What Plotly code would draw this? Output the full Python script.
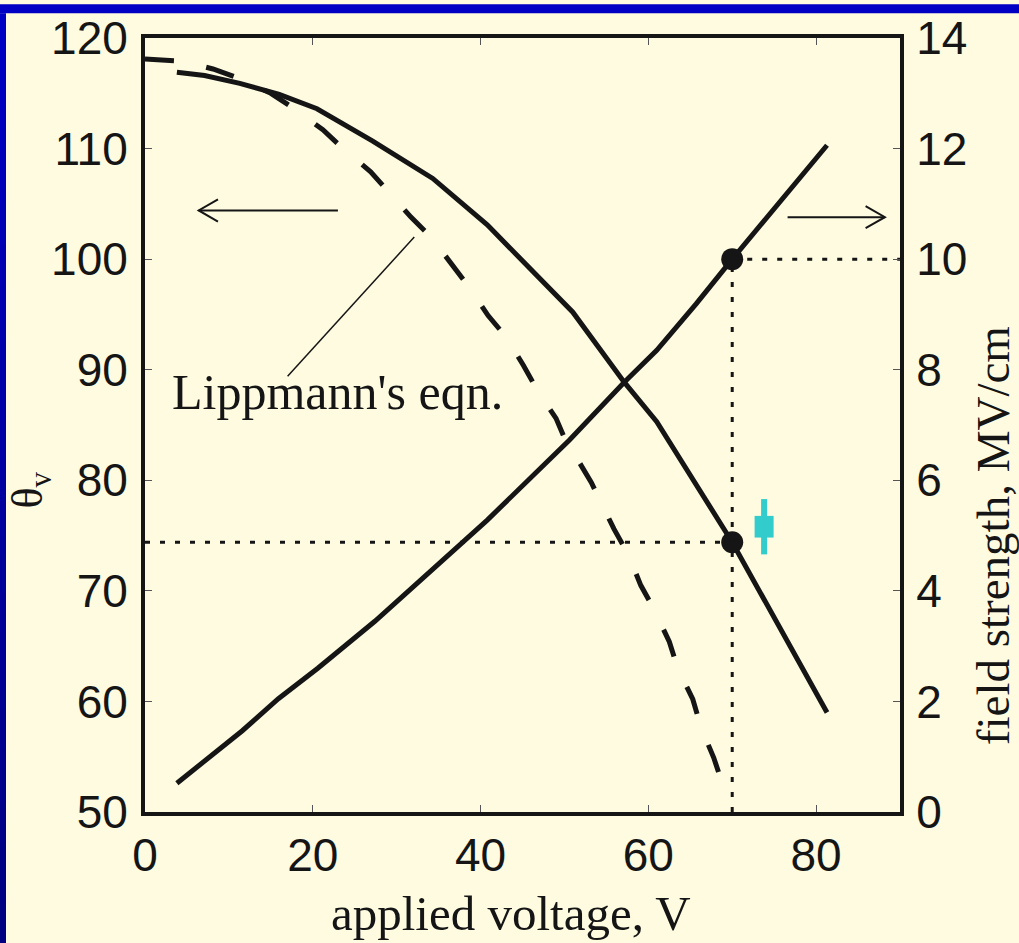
import plotly.graph_objects as go

# Contact angle vs applied voltage (left axis)
v_theta = [3.8, 7.1, 11.3, 16.0, 20.5, 27.1, 34.3, 40.8, 51.0, 57.1, 61.0, 70.0, 81.3]
theta = [116.9, 116.6, 115.9, 114.9, 113.6, 110.7, 107.3, 103.1, 95.2, 88.9, 85.3, 74.4, 59.0]

# Field strength vs applied voltage (right axis)
v_field = [3.8, 7.0, 11.6, 15.9, 20.6, 27.4, 34.2, 40.8, 50.6, 57.1, 61.0, 65.7, 70.0, 81.3]
field = [0.52, 0.90, 1.47, 2.05, 2.60, 3.45, 4.38, 5.28, 6.73, 7.77, 8.35, 9.19, 10.0, 12.06]

# Lippmann's equation prediction (left axis)
v_lipp = [0.0, 4.5, 8.1, 11.4, 15.0, 17.8, 21.2, 23.6, 26.9, 29.0, 31.7, 34.1, 36.5, 38.6,
          40.9, 43.0, 45.1, 46.8, 49.0, 49.9, 53.2, 54.1, 55.9, 57.6, 59.1, 60.7, 62.5,
          63.5, 65.3, 66.3, 67.8, 68.9]
theta_lipp = [118.1, 117.9, 117.2, 116.3, 115.0, 113.6, 111.7, 110.0, 107.9, 106.1, 103.8,
              102.0, 99.5, 97.5, 94.9, 93.0, 90.4, 88.1, 85.6, 84.0, 79.8, 78.4, 75.6, 73.3,
              70.5, 68.3, 65.4, 63.0, 60.2, 57.6, 54.9, 52.4]

# Operating point
v_op = 70.0
theta_op = 74.4
field_op = 10.0

# Measured angle with spread
v_meas = 73.8
theta_meas = 75.8
theta_meas_box = 0.98
theta_meas_range = 2.5

# Axis scales
x_range = [0, 90]
x_ticks = [0, 20, 40, 60, 80]
y_range = [50, 120]
y_ticks = [50, 60, 70, 80, 90, 100, 110, 120]
y2_range = [0, 14]
y2_ticks = [0, 2, 4, 6, 8, 10, 12, 14]

INK = "#151515"
BG = "#FEFBE1"
SANS = "Liberation Sans, Arial, sans-serif"
SERIF = "Liberation Serif, Times New Roman, serif"

fig = go.Figure()

fig.add_trace(go.Scatter(x=v_lipp, y=theta_lipp, mode="lines",
                         line=dict(color=INK, width=5, dash="29px,33px"),
                         showlegend=False))
fig.add_trace(go.Scatter(x=v_theta, y=theta, mode="lines",
                         line=dict(color=INK, width=5), showlegend=False))
fig.add_trace(go.Scatter(x=v_field, y=field, mode="lines", yaxis="y2",
                         line=dict(color=INK, width=5), showlegend=False))

# Dotted guides through the operating point
fig.add_trace(go.Scatter(x=[x_range[0], v_op], y=[theta_op, theta_op], mode="lines",
                         line=dict(color=INK, width=3, dash="5px,10px"), showlegend=False))
fig.add_trace(go.Scatter(x=[v_op, v_op], y=[y2_range[0], field_op], mode="lines", yaxis="y2",
                         line=dict(color=INK, width=3, dash="5px,10px"), showlegend=False))
fig.add_trace(go.Scatter(x=[v_op, x_range[1]], y=[field_op, field_op], mode="lines", yaxis="y2",
                         line=dict(color=INK, width=3, dash="5px,10px"), showlegend=False))

# Operating point markers
fig.add_trace(go.Scatter(x=[v_op], y=[theta_op], mode="markers",
                         marker=dict(color=INK, size=22), showlegend=False))
fig.add_trace(go.Scatter(x=[v_op], y=[field_op], mode="markers", yaxis="y2",
                         marker=dict(color=INK, size=22), showlegend=False))

# Measured point: whisker and box
CYAN = "#33CCCC"
fig.add_trace(go.Scatter(x=[v_meas], y=[theta_meas], mode="markers",
                         marker=dict(size=4, color=CYAN),
                         error_y=dict(type="data", array=[theta_meas_range], color=CYAN,
                                      thickness=6, width=0),
                         showlegend=False))
fig.add_trace(go.Scatter(x=[v_meas], y=[theta_meas], mode="markers",
                         marker=dict(size=4, color=CYAN),
                         error_y=dict(type="data", array=[theta_meas_box], color=CYAN,
                                      thickness=19, width=0),
                         showlegend=False))

# Direction arrows (open V heads) and leader line
left_arrow = dict(x0=23.0, x1=6.4, y=104.4)
right_arrow = dict(x0=76.6, x1=88.2, y=103.8)
head_dx, head_dy = 2.3, 1.0
shapes = []
for a in (left_arrow, right_arrow):
    sgn = 1 if a["x1"] < a["x0"] else -1
    shapes.append(dict(type="line", xref="x", yref="y", x0=a["x0"], x1=a["x1"],
                       y0=a["y"], y1=a["y"], line=dict(color=INK, width=2)))
    shapes.append(dict(type="path", xref="x", yref="y",
                       path=f"M {a['x1'] + sgn * head_dx},{a['y'] + head_dy} "
                            f"L {a['x1']},{a['y']} L {a['x1'] + sgn * head_dx},{a['y'] - head_dy}",
                       line=dict(color=INK, width=2)))
shapes.append(dict(type="line", xref="x", yref="y", x0=17.0, y0=89.4, x1=32.1, y1=102.0,
                   line=dict(color=INK, width=1.5)))

# Slide frame: blue bars along the top and left edge
W, H = 1019, 943
L, R, T, B = 145, 119, 32, 131
pw, ph = W - L - R, H - T - B
def px_x(p):
    return (p - L) / pw
def px_y(p):
    return 1 - (p - T) / ph
n_seg = 48
for i in range(n_seg):
    y0 = 7 + (H - 7) * i / n_seg
    y1 = 7 + (H - 7) * (i + 1) / n_seg + 3
    f = i / (n_seg - 1)
    b = int(0xC4 + (0x80 - 0xC4) * f)
    shapes.append(dict(type="rect", xref="paper", yref="paper", layer="above",
                       x0=px_x(-2), x1=px_x(6), y0=px_y(y0), y1=px_y(y1),
                       fillcolor=f"rgb(0,0,{b})", line=dict(width=0)))
shapes.append(dict(type="rect", xref="paper", yref="paper", layer="above",
                   x0=px_x(-2), x1=px_x(W + 2), y0=px_y(-2), y1=px_y(7),
                   fillcolor="#0000C4", line=dict(width=0)))

annotations = [
    dict(text="Lippmann's eqn.", x=22.9, y=88.0, xref="x", yref="y", showarrow=False,
         font=dict(family=SERIF, size=50, color=INK), xanchor="center", yanchor="middle"),
    dict(text="applied voltage, V", x=px_x(511), y=px_y(914), xref="paper", yref="paper",
         showarrow=False, font=dict(family=SERIF, size=49, color=INK),
         xanchor="center", yanchor="middle"),
    dict(text="θ<sub>v</sub>", x=px_x(30), y=px_y(488), xref="paper", yref="paper",
         showarrow=False, textangle=-90, font=dict(family=SERIF, size=44, color=INK),
         xanchor="center", yanchor="middle"),
    dict(text="field strength, MV/cm", x=px_x(993), y=px_y(534), xref="paper", yref="paper",
         showarrow=False, textangle=-90, font=dict(family=SERIF, size=47, color=INK),
         xanchor="center", yanchor="middle"),
]

axis_common = dict(showgrid=False, zeroline=False, ticks="inside", ticklen=7, tickwidth=1,
                   tickcolor="#555555", showline=True, linecolor=INK, linewidth=4,
                   tickfont=dict(family=SANS, size=46, color=INK))

fig.update_layout(
    width=W, height=H,
    margin=dict(l=L, r=R, t=T, b=B),
    paper_bgcolor=BG, plot_bgcolor=BG,
    showlegend=False,
    xaxis=dict(range=x_range, tickvals=x_ticks, mirror="ticks", ticklabelstandoff=0,
               **axis_common),
    yaxis=dict(range=y_range, tickvals=y_ticks, ticklabelstandoff=4, **axis_common),
    yaxis2=dict(range=y2_range, tickvals=y2_ticks, overlaying="y", side="right",
                ticklabelstandoff=3, **axis_common),
    shapes=shapes,
    annotations=annotations,
)

fig.write_html("out.html")
